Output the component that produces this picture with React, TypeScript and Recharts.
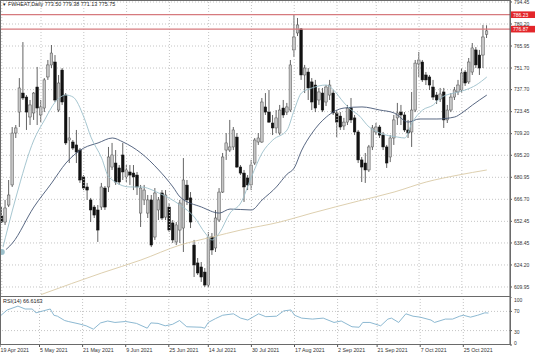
import React from "react";
import { ComposedChart, Bar, Line, XAxis, YAxis, CartesianGrid, ReferenceLine } from "recharts";

// daily OHLC (137 bars, 19 Apr 2021 ->)
const opens = [
  655.9, 652.0, 663.0, 676.0, 709.6, 723.2, 735.5, 732.9, 720.0, 722.6,
  739.4, 721.3, 725.8, 745.9, 753.7, 755.6, 724.5, 750.4, 734.2, 705.1,
  703.8, 701.9, 698.6, 681.2, 674.7, 666.3, 661.7, 659.8, 661.7, 674.0,
  674.7, 687.6, 690.2, 687.0, 695.4, 681.2, 684.4, 683.7, 682.4, 657.8,
  666.3, 657.8, 666.3, 642.3, 659.8, 670.8, 655.2, 661.7, 651.4, 639.1,
  646.8, 648.1, 675.9, 667.6, 637.1, 625.5, 622.9, 619.6, 611.2, 642.3,
  635.2, 653.3, 671.4, 698.6, 698.6, 700.6, 707.0, 687.6, 683.7, 680.5,
  676.0, 690.2, 703.8, 703.8, 726.5, 723.2, 716.1, 712.9, 709.6, 725.8,
  723.2, 724.5, 763.4, 774.4, 777.0, 747.2, 749.1, 742.7, 740.7, 731.0,
  735.5, 729.7, 734.2, 735.5, 722.6, 720.6, 714.2, 716.7, 725.8, 719.4,
  710.3, 692.2, 690.2, 685.7, 700.6, 710.3, 713.5, 708.3, 700.6, 694.1,
  706.4, 719.4, 723.2, 721.3, 711.6, 710.3, 724.5, 754.3, 755.6, 747.2,
  745.9, 739.4, 734.2, 731.6, 736.2, 718.1, 724.5, 732.9, 736.2, 737.5,
  749.1, 742.7, 749.1, 763.4, 760.1, 760.1, 773.5,
];
const highs = [
  661.7, 666.3, 679.2, 713.5, 714.8, 745.2, 768.5, 734.2, 731.0, 736.2,
  752.4, 731.0, 745.2, 756.9, 766.6, 760.1, 747.2, 751.7, 735.5, 720.0,
  705.1, 711.6, 699.9, 682.4, 677.3, 667.6, 663.0, 663.0, 677.3, 675.3,
  700.6, 703.2, 698.6, 688.9, 703.2, 688.9, 688.9, 688.9, 684.4, 676.0,
  676.0, 669.5, 669.5, 674.0, 668.2, 672.7, 672.7, 664.3, 653.3, 652.0,
  666.3, 693.4, 679.2, 671.4, 640.4, 628.7, 626.1, 622.2, 645.5, 644.9,
  659.8, 674.0, 696.7, 709.6, 718.1, 713.5, 709.6, 688.9, 685.7, 682.4,
  692.2, 706.4, 709.6, 732.3, 735.5, 737.5, 721.3, 724.5, 727.8, 731.0,
  729.1, 756.9, 786.0, 784.1, 777.6, 753.7, 751.7, 745.2, 744.0, 738.8,
  738.8, 740.7, 744.0, 737.5, 724.5, 723.2, 719.4, 727.8, 732.3, 721.3,
  711.6, 694.1, 696.7, 701.9, 714.8, 716.1, 714.8, 710.3, 701.9, 708.3,
  721.3, 729.1, 727.8, 723.2, 718.1, 736.2, 756.9, 762.1, 756.9, 749.1,
  747.2, 744.0, 736.2, 738.8, 738.8, 727.8, 735.5, 739.4, 744.0, 751.7,
  750.4, 758.2, 767.9, 765.3, 763.4, 779.6, 779.38,
];
const lows = [
  651.4, 650.1, 661.7, 674.7, 706.4, 713.5, 731.0, 711.6, 714.8, 718.1,
  714.8, 716.7, 723.2, 744.0, 751.7, 729.7, 723.2, 727.8, 701.9, 690.2,
  698.6, 690.2, 677.3, 672.7, 666.3, 652.0, 654.6, 639.1, 659.8, 659.8,
  671.4, 685.7, 676.0, 676.0, 679.2, 677.9, 676.0, 672.7, 669.5, 648.8,
  663.0, 654.6, 635.8, 640.4, 653.3, 653.3, 653.3, 645.5, 638.4, 637.1,
  638.4, 632.6, 663.0, 648.1, 616.4, 617.7, 613.2, 609.9, 609.9, 630.7,
  632.6, 652.0, 670.8, 692.2, 697.3, 698.6, 687.0, 682.4, 665.0, 672.7,
  672.7, 688.9, 701.9, 703.2, 721.3, 716.1, 708.3, 709.6, 708.3, 719.4,
  721.3, 723.2, 758.8, 772.4, 744.0, 735.5, 731.0, 724.5, 723.2, 727.8,
  723.2, 727.1, 731.0, 721.3, 707.0, 711.6, 711.6, 714.8, 716.1, 708.3,
  690.2, 677.9, 677.3, 684.4, 698.6, 708.3, 706.4, 698.6, 687.0, 690.8,
  701.9, 714.8, 714.8, 710.3, 706.4, 700.6, 723.2, 745.9, 742.7, 740.7,
  737.5, 731.0, 728.4, 729.7, 712.9, 716.1, 723.2, 731.0, 734.2, 735.5,
  740.1, 741.4, 747.2, 751.7, 747.2, 751.7, 771.13,
];
const closes = [
  652.0, 661.1, 669.5, 709.6, 712.9, 738.8, 732.3, 723.2, 727.8, 735.5,
  725.8, 726.5, 744.0, 753.7, 761.4, 731.0, 742.0, 729.7, 703.2, 706.4,
  699.9, 697.3, 679.2, 674.0, 672.7, 659.8, 656.5, 646.8, 674.7, 661.7,
  694.1, 695.4, 677.9, 677.9, 684.4, 685.7, 682.4, 681.2, 674.7, 674.0,
  672.7, 666.3, 637.1, 670.8, 666.3, 654.6, 669.5, 646.8, 640.4, 650.1,
  664.3, 679.2, 666.3, 652.0, 624.2, 619.0, 616.4, 611.2, 642.3, 633.9,
  654.6, 671.4, 694.1, 703.2, 700.6, 711.6, 687.6, 683.7, 674.7, 676.0,
  688.9, 705.1, 706.4, 729.7, 723.2, 716.7, 712.9, 719.4, 724.5, 721.3,
  726.5, 753.7, 771.8, 779.6, 747.2, 751.7, 738.8, 729.7, 725.8, 736.2,
  724.5, 739.4, 740.7, 722.6, 716.7, 713.5, 716.7, 725.8, 718.1, 710.3,
  692.2, 687.6, 685.7, 700.6, 712.9, 713.5, 708.3, 700.6, 690.2, 706.4,
  718.1, 722.6, 721.3, 711.6, 709.6, 724.5, 754.9, 756.9, 744.0, 744.0,
  740.7, 732.9, 731.0, 734.9, 718.1, 724.5, 732.9, 737.5, 740.7, 748.5,
  742.0, 755.6, 764.7, 753.7, 751.7, 771.8, 775.75,
];

// moving averages, sampled at [bar, price]
const fastMa: [number, number][] = [
  [0, 632.6], [4, 668.2], [9, 705.1], [12, 718.1], [15, 729.7], [18, 734.2], [20, 732.9],
  [23, 720.0], [25, 707.0], [28, 693.4], [30, 681.2], [36, 674.7], [39, 674.7], [44, 670.8],
  [50, 663.0], [54, 655.2], [57, 644.9], [59, 640.4], [61, 644.9], [64, 657.8], [67, 664.3],
  [70, 681.2], [73, 696.7], [76, 705.1], [80, 711.6], [82, 724.5], [84, 735.5], [87, 738.8],
  [91, 740.7], [93, 737.5], [96, 729.1], [98, 724.5], [100, 721.3], [103, 713.5], [106, 709.6],
  [111, 707.0], [113, 706.4], [115, 716.1], [118, 724.5], [121, 727.8], [123, 732.3],
  [128, 736.2], [130, 737.5], [133, 740.7], [136, 745.9],
];
const slowMa: [number, number][] = [
  [0, 631.9], [3, 638.4], [9, 661.7], [14, 677.3], [18, 690.2], [23, 699.9], [27, 703.2],
  [31, 706.4], [34, 703.8], [39, 696.7], [44, 685.7], [48, 674.7], [50, 668.2], [56, 661.7],
  [61, 657.8], [64, 660.4], [70, 659.8], [73, 666.3], [77, 674.7], [80, 683.0], [82, 687.0],
  [84, 698.0], [87, 709.6], [91, 720.0], [96, 725.8], [101, 726.5], [106, 724.5], [110, 722.6],
  [114, 716.7], [117, 718.7], [122, 718.7], [127, 720.0], [129, 722.6], [132, 727.8], [136, 734.2],
];
const longMa: [number, number][] = [
  [11, 605.0], [28, 619.0], [39, 627.4], [50, 637.1], [59, 642.3], [67, 646.8], [78, 652.0],
  [87, 657.8], [100, 665.6], [110, 671.4], [119, 677.9], [128, 682.4], [136, 685.7],
];
const rsi14: [number, number][] = [
  [0, 60], [2, 73], [5, 81], [7, 75], [9, 75], [10, 67], [12, 71], [14, 75], [15, 62], [16, 60],
  [18, 51], [19, 49], [22, 44], [24, 40], [26, 33], [28, 46], [30, 50], [32, 47], [35, 49],
  [38, 45], [41, 35], [42, 46], [44, 45], [46, 40], [48, 43], [50, 51], [52, 38], [56, 37],
  [57, 35], [58, 47], [60, 55], [62, 62], [65, 65], [67, 56], [69, 52], [72, 65], [74, 59],
  [77, 60], [79, 71], [81, 73], [82, 62], [84, 56], [87, 54], [90, 56], [93, 47], [95, 50],
  [98, 38], [100, 37], [101, 47], [103, 47], [106, 40], [108, 54], [109, 56], [111, 47],
  [113, 65], [115, 60], [117, 58], [120, 52], [121, 47], [124, 54], [126, 54], [128, 60],
  [129, 62], [131, 58], [133, 62], [135, 67], [136, 66.6],
];

const dateLabels = [
  "19 Apr 2021", "5 May 2021", "21 May 2021", "9 Jun 2021", "25 Jun 2021", "14 Jul 2021",
  "30 Jul 2021", "17 Aug 2021", "2 Sep 2021", "21 Sep 2021", "7 Oct 2021", "25 Oct 2021",
];
const dateBars = [0, 11, 23, 35, 47, 58, 70, 82, 94, 105, 117, 129];
const priceTicks = [
  794.45, 780.2, 765.95, 751.7, 737.7, 723.45, 709.2, 695.2, 680.95, 666.7, 652.45, 638.45,
  624.2, 609.95,
];
const rsiTicks = [0, 30, 70, 100];
const levels = [786.23, 776.87];

const SLOTS = 143; // bars + empty shift on the right
const W = 536;
const AXIS_W = 26;
const FONT = "'Liberation Sans', Arial, sans-serif";
const GRID = "#c4c4c4";

const rows: any[] = Array.from({ length: SLOTS }, (_, i) => {
  const r: any = { i };
  if (i < opens.length) {
    r.o = opens[i];
    r.h = highs[i];
    r.l = lows[i];
    r.c = closes[i];
    r.range = [lows[i], highs[i]];
  }
  return r;
});
fastMa.forEach(([i, v]) => (rows[i].fast = v));
slowMa.forEach(([i, v]) => (rows[i].slow = v));
longMa.forEach(([i, v]) => (rows[i].long = v));
rsi14.forEach(([i, v]) => (rows[i].rsi = v));

const Candle = (props: any) => {
  const { x, y, width, height, payload } = props;
  if (!payload || payload.o == null) return null;
  const { o, h, l, c } = payload;
  const top = Math.min(y, y + height);
  const hgt = Math.abs(height);
  const k = h === l ? 0 : hgt / (h - l);
  const bTop = top + (h - Math.max(o, c)) * k;
  const bBot = top + (h - Math.min(o, c)) * k;
  const cx = x + width / 2;
  const up = c >= o;
  return (
    <g>
      <line x1={cx} x2={cx} y1={top} y2={top + hgt} stroke="#3c3c3c" strokeWidth={0.8} />
      <rect
        x={x + 0.2}
        y={bTop}
        width={width - 0.4}
        height={Math.max(bBot - bTop, 0.8)}
        fill={up ? "#c6c6c6" : "#121212"}
        stroke={up ? "#505050" : "#121212"}
        strokeWidth={0.5}
      />
    </g>
  );
};

const LevelTag = ({ viewBox, tag }: any) => {
  if (!viewBox) return null;
  const { x, y, width } = viewBox;
  const left = x + width + 1;
  return (
    <g>
      <rect x={left} y={y - 3.3} width={24} height={6.6} fill="#e3262a" />
      <text x={left + 2} y={y + 1.9} fontSize={5} fill="#fff" fontFamily={FONT}>
        {tag}
      </text>
    </g>
  );
};

const DateTick = ({ x, y, payload }: any) => {
  const k = dateBars.indexOf(payload.value);
  return (
    <text x={x + 0.5} y={y + 4} fontSize={5.3} fill="#333" fontFamily={FONT} textAnchor="start">
      {k >= 0 ? dateLabels[k] : ""}
    </text>
  );
};

// MT4 draws the oscillator scale labels a little inside the panel
const rsiShift: Record<number, number> = { 100: 3.5, 70: 0, 30: 2, 0: -2 };
const RsiTick = ({ x, y, payload }: any) => (
  <text x={x} y={y + 1.8 + (rsiShift[payload.value] ?? 0)} fontSize={5} fill="#333" fontFamily={FONT} textAnchor="start">
    {payload.value}
  </text>
);

export default function App() {
  return (
    <div style={{ position: "fixed", left: 0, top: 0, width: W, height: 357, background: "#fff", fontFamily: FONT }}>
      {/* price panel */}
      <div style={{ position: "absolute", left: 0, top: 0 }}>
        <ComposedChart width={W} height={297} data={rows} margin={{ top: 0, right: 0, left: 0, bottom: 0 }}>
          <CartesianGrid vertical={false} stroke={GRID} strokeDasharray="1 2" />
          <XAxis dataKey="i" hide />
          <YAxis
            orientation="right"
            width={AXIS_W}
            domain={[603.46, 795.74]}
            allowDataOverflow
            ticks={priceTicks}
            interval={0}
            tickFormatter={(v: number) => v.toFixed(2)}
            tick={{ fontSize: 5, fill: "#333", fontFamily: FONT }}
            tickSize={2}
            tickMargin={2}
            axisLine={{ stroke: "#555" }}
            tickLine={{ stroke: "#555" }}
          />
          {dateBars.map((b) => (
            <ReferenceLine key={b} x={b} stroke={GRID} strokeDasharray="1 2" />
          ))}
          {levels.map((v) => (
            <ReferenceLine
              key={v}
              y={v}
              stroke="#d67a7e"
              strokeWidth={1.3}
              label={<LevelTag tag={v.toFixed(2)} />}
            />
          ))}
          <Line dataKey="long" stroke="#d9c9a6" strokeWidth={0.9} dot={false} connectNulls type="monotone" isAnimationActive={false} />
          <Line dataKey="slow" stroke="#465775" strokeWidth={0.9} dot={false} connectNulls type="monotone" isAnimationActive={false} />
          <Line dataKey="fast" stroke="#9cc0cb" strokeWidth={0.9} dot={false} connectNulls type="monotone" isAnimationActive={false} />
          <Bar dataKey="range" barSize={3} shape={<Candle />} isAnimationActive={false} />
        </ComposedChart>
      </div>
      <div style={{ position: "absolute", left: 0, top: 0, width: 509, height: 295, border: "1px solid #6a6a6a", pointerEvents: "none" }} />
      <div style={{ position: "absolute", left: 2, top: 1, fontSize: 5.4, color: "#222", whiteSpace: "nowrap" }}>
        <span style={{ fontSize: 4.5 }}>▼</span> FWHEAT,Daily 773.50 779.38 771.13 775.75
      </div>

      {/* RSI panel */}
      <div style={{ position: "absolute", left: 0, top: 297 }}>
        <ComposedChart width={W} height={60} data={rows} margin={{ top: 0, right: 0, left: 0, bottom: 0 }}>
          <XAxis
            dataKey="i"
            ticks={dateBars}
            interval={0}
            height={12}
            tick={<DateTick />}
            tickSize={2}
            tickMargin={1}
            axisLine={false}
            tickLine={{ stroke: "#555" }}
          />
          <YAxis
            orientation="right"
            width={AXIS_W}
            domain={[0, 100]}
            ticks={rsiTicks}
            interval={0}
            tick={<RsiTick />}
            tickSize={2}
            tickMargin={2}
            axisLine={{ stroke: "#555" }}
            tickLine={{ stroke: "#555" }}
          />
          {dateBars.map((b) => (
            <ReferenceLine key={b} x={b} stroke={GRID} strokeDasharray="1 2" />
          ))}
          <ReferenceLine y={70} stroke={GRID} strokeDasharray="1 2" />
          <ReferenceLine y={30} stroke={GRID} strokeDasharray="1 2" />
          <Line dataKey="rsi" stroke="#7fb0cc" strokeWidth={0.9} dot={false} connectNulls isAnimationActive={false} />
        </ComposedChart>
      </div>
      <div style={{ position: "absolute", left: 0, top: 296, width: 509, height: 47, border: "1px solid #6a6a6a", pointerEvents: "none" }} />
      <div style={{ position: "absolute", left: 3, top: 298, fontSize: 5.4, color: "#222", whiteSpace: "nowrap" }}>
        RSI(14) 66.6163
      </div>
    </div>
  );
}
